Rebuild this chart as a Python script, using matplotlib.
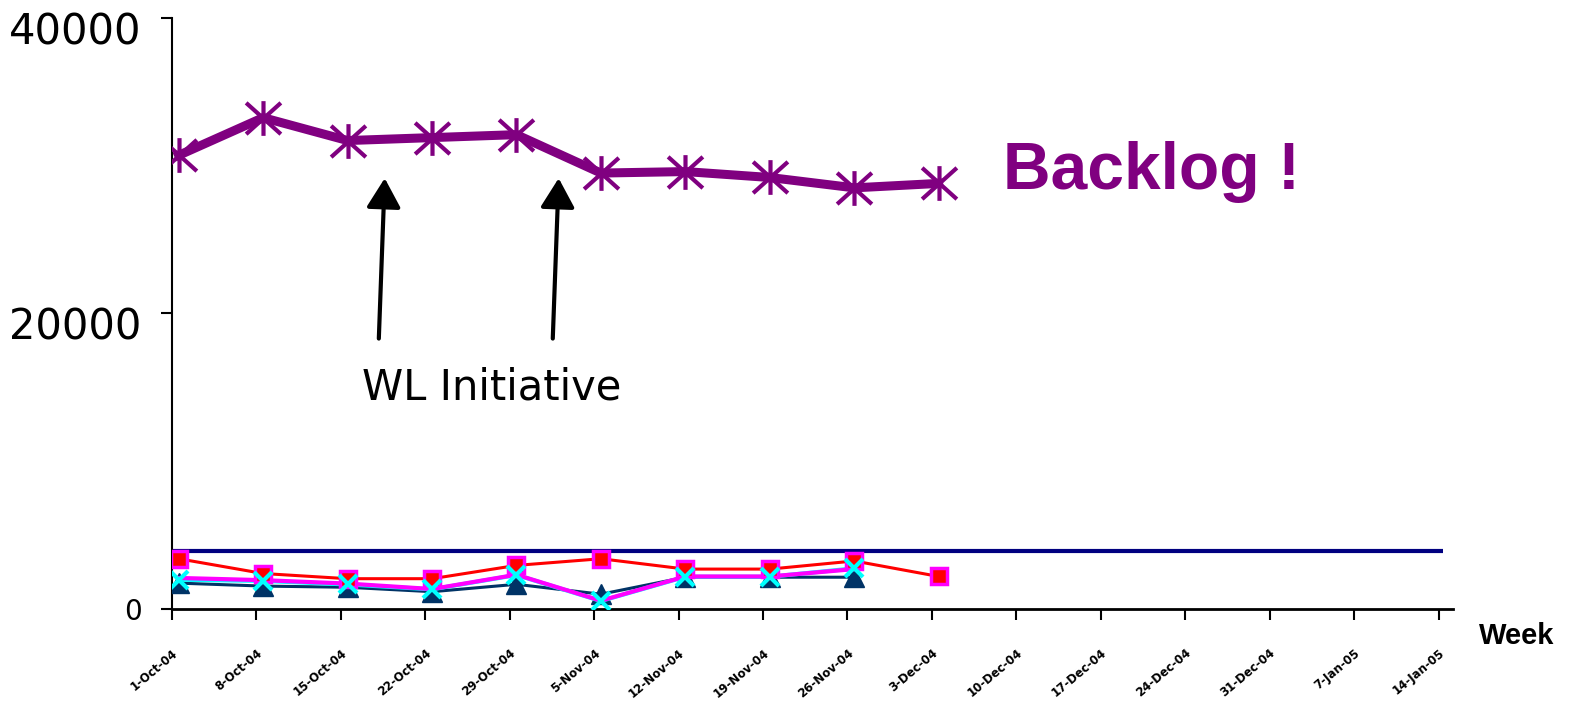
import numpy as np
import matplotlib
matplotlib.use("Agg")
import matplotlib.pyplot as plt
import matplotlib.transforms as mtransforms
from matplotlib.path import Path

# weekly categories
weeks = [
    "1-Oct-04", "8-Oct-04", "15-Oct-04", "22-Oct-04",
    "29-Oct-04", "5-Nov-04", "12-Nov-04", "19-Nov-04",
    "26-Nov-04", "3-Dec-04", "10-Dec-04", "17-Dec-04",
    "24-Dec-04", "31-Dec-04", "7-Jan-05", "14-Jan-05",
]

backlog = [30700, 33250, 31700, 31900, 32100, 29500, 29600, 29200, 28500, 28800]
referrals = [3400, 2400, 2050, 2050, 2950, 3400, 2700, 2700, 3250, 2200]
seen_a = [2100, 1950, 1720, 1350, 2320, 560, 2200, 2200, 2700]
seen_b = [1980, 1900, 1660, 1330, 2300, 540, 2180, 2180, 2750]
removals = [1750, 1550, 1470, 1170, 1670, 1000, 2150, 2150, 2150]
target = 3900

axis_max = 40000
y_ticks = [0, 20000, 40000]

# asterisk marker: vertical bar plus a cross
star = Path(
    [(-1, -0.9), (1, 0.9), (-1, 0.9), (1, -0.9), (0, -1), (0, 1)],
    [Path.MOVETO, Path.LINETO, Path.MOVETO, Path.LINETO, Path.MOVETO, Path.LINETO],
)

fig = plt.figure(figsize=(15.76, 7.02), dpi=100)
ax = fig.add_axes([0.1091, 0.1325, 0.8128, 0.842])

ax.hlines(target, -0.08, len(weeks) - 1.03, color="#000080", linewidth=3, zorder=2)

ax.plot(
    range(len(removals)), removals,
    color="#003366", linewidth=2.2,
    marker="^", markersize=14, markerfacecolor="#003366",
    markeredgecolor="#003366", zorder=3,
)

ax.plot(range(len(seen_b)), seen_b, color="#00FFFF", linewidth=3, zorder=3)
ax.plot(range(len(seen_a)), seen_a, color="#FF00FF", linewidth=3, zorder=4)

ax.plot(
    range(len(referrals)), referrals,
    color="#FF0000", linewidth=2.2,
    marker="s", markersize=12, markerfacecolor="#FF0000",
    markeredgecolor="#FF00FF", markeredgewidth=2.5, zorder=5,
)

ax.plot(
    range(len(seen_b)), seen_b,
    linestyle="none",
    marker="x", markersize=13, markeredgecolor="#00FFFF",
    markeredgewidth=3, zorder=6,
)

ax.plot(
    range(len(backlog)), backlog,
    color="#800080", linewidth=6.5,
    marker=star, markersize=25, markeredgecolor="#800080",
    markerfacecolor="none", markeredgewidth=3, zorder=7,
)

# arrows marking the initiative
for x0, x1 in [(2.37, 2.44), (4.43, 4.50)]:
    ax.annotate(
        "",
        xy=(x1, 29150),
        xytext=(x0, 18300),
        arrowprops=dict(
            arrowstyle="-|>,head_width=1.05,head_length=1.8",
            color="black", linewidth=3, shrinkA=0, shrinkB=0,
        ),
    )

ax.text(
    2.17, 15000, "WL Initiative",
    fontsize=30, va="center", ha="left", color="black",
)

ax.text(
    9.76, 29600, "Backlog !",
    fontsize=47.5, fontweight="bold", family="Liberation Sans",
    va="center", ha="left", color="#800080",
)

fig.text(
    0.9385, 0.094, "Week",
    fontsize=21, fontweight="bold", family="Liberation Sans",
    va="center", ha="left",
)

ax.set_xlim(-0.08, len(weeks) - 0.91)
ax.set_ylim(0, axis_max)

ax.set_xticks(np.arange(len(weeks)) - 0.08)
ax.set_xticklabels(
    weeks, rotation=40, ha="right", rotation_mode="anchor",
    fontsize=8.5, fontweight="bold",
)
ax.tick_params(axis="x", length=8, width=1.5, pad=19)

ax.set_yticks(y_ticks)
ax.set_yticklabels([str(v) for v in y_ticks], fontsize=30)
ax.tick_params(axis="y", length=8, width=1.5, pad=14)

# the big labels sit a little below their ticks
shift = mtransforms.ScaledTranslation(0, -0.1, fig.dpi_scale_trans)
ylabels = ax.get_yticklabels()
ylabels[0].set_fontsize(20)
for lab in ylabels[1:]:
    lab.set_transform(lab.get_transform() + shift)

ax.spines["top"].set_visible(False)
ax.spines["right"].set_visible(False)
ax.spines["left"].set_linewidth(1.5)
ax.spines["bottom"].set_linewidth(2)

fig.savefig("out.png", dpi=100)
